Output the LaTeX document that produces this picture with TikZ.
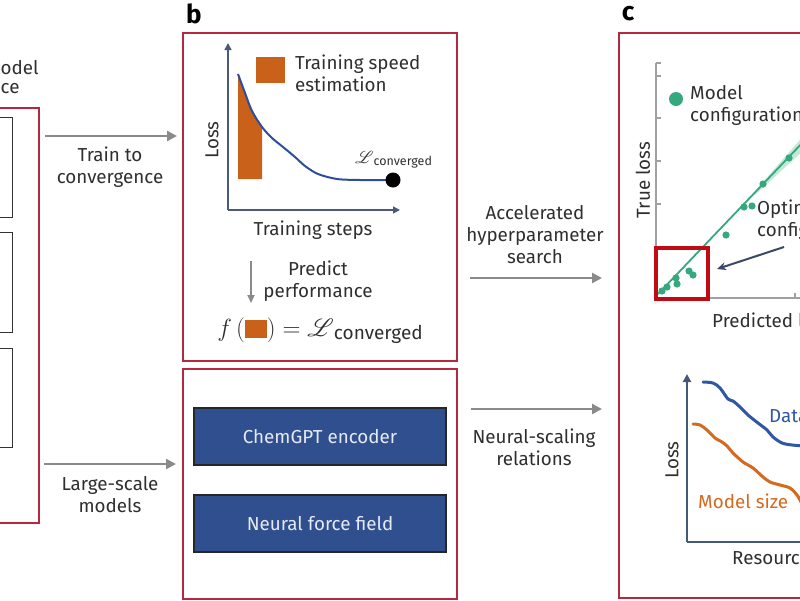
\documentclass[tikz,border=0pt]{standalone}
\usepackage{fontspec}
\setmainfont{Fira Sans}
\usepackage{mathrsfs}
\usetikzlibrary{arrows.meta}
\definecolor{redframe}{HTML}{B5283F}
\definecolor{optred}{HTML}{C00A14}
\definecolor{garrowc}{HTML}{8A8A8A}
\definecolor{txt}{HTML}{2F2F2F}
\definecolor{orangec}{HTML}{C9611B}
\definecolor{bluecurve}{HTML}{2D4E9C}
\definecolor{axisb}{HTML}{4A5A7A}
\definecolor{navybox}{HTML}{2F4F8E}
\definecolor{boxtext}{HTML}{E6EAF4}
\definecolor{greenc}{HTML}{35A97D}
\definecolor{lightgreen}{HTML}{C4E8D8}
\definecolor{gaxis}{HTML}{A0A0A0}
\definecolor{pointer}{HTML}{3C4868}
\definecolor{datablue}{HTML}{2F57A3}
\definecolor{modelorange}{HTML}{D4691F}
\definecolor{axisc}{HTML}{44597A}
\tikzset{
  panel/.style={draw=redframe, line width=1.6pt, fill=none, inner sep=0pt},
  blkbox/.style={draw=black!80, line width=1.2pt, inner sep=0pt},
  navy/.style={draw=black!85, line width=1.2pt, fill=navybox, text=boxtext, inner sep=0pt, minimum width=252pt, minimum height=57pt},
  garrow/.style={draw=garrowc, line width=2.6pt, -{Triangle[length=10pt,width=10pt]}},
  darrow/.style={draw=garrowc, line width=1.8pt, -{Triangle[length=8pt,width=7pt]}},
  lbl/.style={align=center},
  panlbl/.style={font=\fontsize{26}{26}\selectfont\bfseries, text=black},
}
\begin{document}
\begin{tikzpicture}[x=1pt,y=-1pt, every node/.style={font=\fontsize{18.8}{22}\selectfont, text=txt, inner sep=0pt}]
\useasboundingbox (0,0) rectangle (800,600);
\clip (0,0) rectangle (800,600);

% ---------- panel a (partly off page) ----------
\node[panel, anchor=north east, minimum width=80pt, minimum height=415pt] (aBox) at (40,107) {};
\node[blkbox, anchor=north east, minimum width=60pt, minimum height=100pt] (a1) at (13,117) {};
\node[blkbox, anchor=north east, minimum width=60pt, minimum height=100pt] (a2) at (13,232) {};
\node[blkbox, anchor=north east, minimum width=60pt, minimum height=99pt] (a3) at (13,348) {};
\node[anchor=west] (aT1) at (0.5,68) {odel};
\node[anchor=west] (aT2) at (0.5,89) {ce};

% ---------- panel frames ----------
\node[panlbl] (labB) at (194,14) {b};
\node[panlbl] (labC) at (628,14) {c};
\node[panel, anchor=north west, minimum width=274pt, minimum height=328pt] (bTop) at (182,32) {};
\node[panel, anchor=north west, minimum width=274pt, minimum height=230pt] (bBot) at (182,368) {};
\node[panel, anchor=north west, minimum width=250pt, minimum height=565pt] (cBox) at (618,32) {};

% ---------- connecting arrows ----------
\coordinate (yA) at (0,136);
\coordinate (yB) at (0,464);
\coordinate (yC) at (0,278);
\coordinate (yD) at (0,409);
\draw[garrow, shorten <=5pt, shorten >=5pt] (aBox.east |- yA) -- (bTop.west |- yA);
\draw[garrow, shorten <=4pt, shorten >=6pt] (aBox.east |- yB) -- (bBot.west |- yB);
\draw[garrow, shorten <=12pt, shorten >=16pt] (bTop.east |- yC) -- (cBox.west |- yC);
\draw[garrow, shorten <=13pt, shorten >=16pt] (bBot.east |- yD) -- (cBox.west |- yD);
\node[lbl] (tTrain) at (110,167) {Train to\\convergence};
\node[lbl] (tLarge) at (110,495) {Large-scale\\models};
\node[lbl] (tAcc) at (535,235) {Accelerated\\hyperparameter\\search};
\node[lbl] (tNeural) at (534,447) {Neural-scaling\\relations};

% ---------- panel b top: training curve ----------
\begin{scope}
  \clip (238,0) rectangle (262,179);
  \fill[orangec] (238,179) -- plot[smooth] coordinates {(238,74) (245,93) (252,111) (262,127) (272,138) (283,147) (295,157) (305,166) (318,174) (337,179) (360,180) (393,180)} -- (393,179) -- cycle;
\end{scope}
\draw[axisb, line width=1.5pt, -{Triangle[length=7pt,width=7pt]}] (228,210) -- (228,43);
\draw[axisb, line width=1.5pt, -{Triangle[length=7pt,width=7pt]}] (228,210) -- (400,210);
\draw[bluecurve, line width=2pt] plot[smooth] coordinates {(238,74) (245,93) (252,111) (262,127) (272,138) (283,147) (295,157) (305,166) (318,174) (337,179) (360,180) (393,180)};
\fill[black] (393,180) circle (7.5);
\fill[orangec] (256,57) rectangle (285,83);
\node[anchor=west, align=left] (legB) at (295,73) {Training speed\\estimation};
\node[rotate=90] (lossB) at (212,140) {Loss};
\node (stepsB) at (313,230) {Training steps};
\node[anchor=west] (lconv) at (355,160) {$\mathscr{L}$\raisebox{-2pt}{\fontsize{12.5}{12.5}\selectfont converged}};
\coordinate (pa) at (251,261);
\coordinate (pb) at (251,303);
\draw[darrow] (pa) -- (pb);
\node[lbl] (predict) at (318,281) {Predict\\performance};
\node (formula) at (320,331) {\fontsize{26}{26}\selectfont$f\,($\textcolor{orangec}{\rule[-1pt]{22pt}{18pt}}$)=\mathscr{L}$\raisebox{-3pt}{\fontsize{19}{19}\selectfont converged}};

% ---------- panel b bottom ----------
\node[navy] (chem) at (320,436.5) {ChemGPT encoder};
\node[navy] (nff) at (320,523.5) {Neural force field};

% ---------- panel c top: parity plot ----------
\draw[gaxis, line width=1.2pt] (656,63) -- (656,298) -- (805,298);
\foreach \yy in {63,76,118,161,204,247} \draw[gaxis, line width=1.1pt] (656,\yy) -- (661,\yy);
\foreach \xx in {708,795} \draw[gaxis, line width=1.1pt] (\xx,298) -- (\xx,293);
\fill[lightgreen] (755,191) -- (806,133) -- (806,148) -- (755,195) -- cycle;
\draw[greenc, line width=1.8pt] (658,294) -- (806,139);
\foreach \p in {(662,291),(667,287),(676,278),(677,284),(689,271),(693,275),(726,235),(744,207),(752,206),(763,184),(789,158)} \fill[greenc] \p circle (3.6);
\fill[greenc] (676,99) circle (7);
\node[anchor=west, align=left] (legC) at (690,105) {Model\\configurations};
\draw[optred, line width=3.6pt] (656,248) rectangle (708,299);
\coordinate (ptA) at (784,247);
\coordinate (ptB) at (717,269);
\draw[pointer, line width=2pt, -{Stealth[length=9pt,width=8pt]}] (ptA) -- (ptB);
\node[anchor=west, align=left] (optC) at (757,220) {Optimal\\configuration};
\node[anchor=west] (predC) at (712,320) {Predicted loss};
\node[rotate=90] (trueC) at (643,180) {True loss};

% ---------- panel c bottom: scaling ----------
\draw[axisc, line width=2pt, -{Triangle[length=8pt,width=8pt]}] (687,542) -- (687,374);
\draw[axisc, line width=2pt] (687,542) -- (810,542);
\draw[datablue, line width=3pt, line cap=round] plot[smooth] coordinates {(703,382) (713,383) (720,388) (728,399) (733,401) (740,407) (748,415) (758,423) (767,430) (773,437) (782,443) (792,445) (805,446)};
\draw[modelorange, line width=3pt, line cap=round] plot[smooth] coordinates {(693,424) (700,425) (707,430) (715,438) (722,442) (727,446) (733,453) (743,462) (753,468) (763,477) (770,482) (780,485) (790,488) (797,495) (801,502)};
\node[anchor=west, text=datablue] (dataC) at (769,415) {Dataset size};
\node[anchor=west, text=modelorange] (modelC) at (698,501) {Model size};
\node[rotate=90] (lossC) at (672,460) {Loss};
\node[anchor=west] (resC) at (732,558) {Resources};
\end{tikzpicture}
\end{document}
